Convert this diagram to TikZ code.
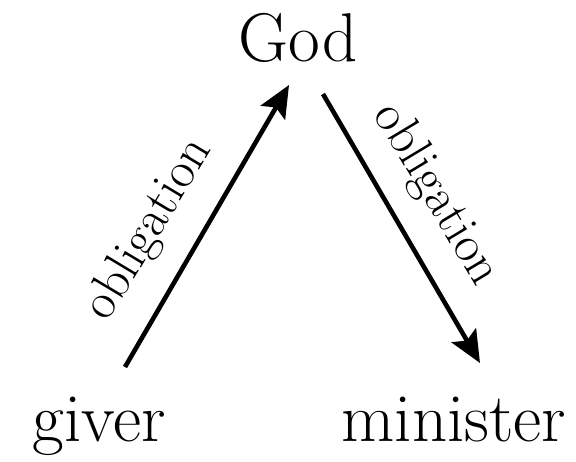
\documentclass[tikz,border=0pt]{standalone}
\usetikzlibrary{arrows.meta}
\begin{document}
\begin{tikzpicture}[x=1pt,y=-1pt,
  big/.style={font=\fontsize{69}{76}\selectfont, inner sep=0pt, anchor=base},
  lbl/.style={font=\fontsize{51}{56}\selectfont, inner sep=0pt, anchor=base},
  arr/.style={line width=4.6pt, -{Stealth[length=32pt,width=28pt,inset=6pt]}}]
\useasboundingbox (0,0) rectangle (576,461);
\node[big] (god) at (298,61) {God};
\node[big] (giver) at (99,441) {giver};
\node[big] (minister) at (454,441) {minister};
\coordinate (a1) at (125,367);
\coordinate (a2) at (289,85);
\coordinate (b1) at (323,94);
\coordinate (b2) at (480,363);
\draw[arr] (a1) -- (a2);
\draw[arr] (b1) -- (b2);
\node[lbl, rotate=59] (l1) at (160,236) {obligation};
\node[lbl, rotate=-59] (l2) at (425,201) {obligation};
\end{tikzpicture}
\end{document}
